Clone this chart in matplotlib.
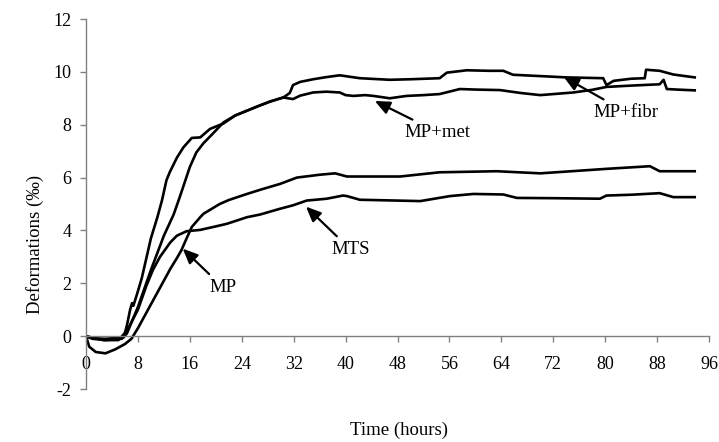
import numpy as np
import matplotlib.pyplot as plt

plt.rcParams['font.family'] = ['Liberation Serif', 'DejaVu Serif']
plt.rcParams['axes.unicode_minus'] = False

t_fibr = [0, 1, 3, 5.5, 6.3, 8, 10, 12, 13.5, 14.5, 16, 17, 18.1, 19.1, 21.2, 23, 24.8,
          26.5, 28.4, 30.4, 31.4, 31.9, 33, 35, 37, 39.1, 40.5, 42.2, 46.8, 50, 54.5,
          55.6, 58.7, 62, 64.3, 65.8, 70, 74.1, 79.7, 80.2, 81.3, 84, 86.1, 86.3, 88.4,
          90.5, 93.8]
d_fibr = [0, -0.1, -0.15, -0.1, 0.1, 1.1, 2.5, 3.8, 4.6, 5.3, 6.4, 6.95, 7.3, 7.55, 8.09,
          8.35, 8.53, 8.7, 8.88, 9.03, 9.2, 9.5, 9.62, 9.72, 9.8, 9.87, 9.82, 9.76, 9.7,
          9.72, 9.76, 9.97, 10.06, 10.04, 10.04, 9.89, 9.84, 9.79, 9.76, 9.5, 9.66, 9.74,
          9.76, 10.08, 10.04, 9.9, 9.79]

t_met = [0, 1, 3, 5.8, 6.3, 6.8, 7.1, 7.3, 8, 8.6, 10, 11, 11.7, 12.4, 12.9, 14, 15, 16.3,
         17.6, 19.1, 21.2, 23, 24.8, 26.5, 28.4, 30.4, 31.9, 33, 35, 37, 39.1, 40, 41.2,
         43, 44.3, 46.8, 49.4, 52, 54.5, 57.6, 60, 63.8, 67, 70, 75.1, 78, 80.2, 84, 88.4,
         89, 89.5, 91, 93.8]
d_met = [0, -0.08, -0.1, -0.05, 0.4, 1.0, 1.25, 1.15, 1.7, 2.2, 3.7, 4.5, 5.13, 5.9, 6.2,
         6.75, 7.14, 7.5, 7.52, 7.84, 8.05, 8.35, 8.53, 8.7, 8.88, 9.03, 8.97, 9.1, 9.22,
         9.25, 9.22, 9.12, 9.09, 9.12, 9.09, 9.0, 9.09, 9.12, 9.16, 9.35, 9.33, 9.31, 9.2,
         9.12, 9.22, 9.32, 9.43, 9.48, 9.53, 9.7, 9.35, 9.33, 9.3]

t_mp = [0, 0.5, 1.5, 3, 4.5, 6, 7, 8, 9, 10, 11, 12, 13, 14, 14.7, 15.5, 16.3, 17.6, 18.1,
        20.6, 22, 24.8, 27, 29.9, 32.5, 36.1, 38.4, 40.2, 42.2, 44.3, 48.4, 54.5, 63.3,
        70, 80.2, 86.9, 88.4, 93.8]
d_mp = [0, -0.4, -0.6, -0.65, -0.5, -0.3, -0.1, 0.3, 0.75, 1.2, 1.65, 2.1, 2.55, 2.95,
        3.25, 3.7, 4.13, 4.5, 4.63, 5.0, 5.15, 5.38, 5.55, 5.76, 6.0, 6.11, 6.16, 6.04,
        6.04, 6.04, 6.04, 6.2, 6.24, 6.16, 6.33, 6.43, 6.24, 6.24]

t_mts = [0, 2.7, 5, 6.3, 8, 9.3, 10.3, 11.4, 13, 14, 15.5, 17.6, 19.6, 21.7, 24.8, 26.8,
         29.9, 31.9, 34, 37.1, 39.6, 40.2, 42.2, 46, 51.5, 56.1, 59.7, 64.3, 66.4, 72,
         79.2, 80.2, 84, 88.4, 90.5, 93.8]
d_mts = [0, -0.15, -0.15, 0.2, 1.0, 1.9, 2.5, 3.0, 3.55, 3.8, 3.97, 4.02, 4.13, 4.25,
         4.5, 4.6, 4.82, 4.95, 5.13, 5.2, 5.32, 5.3, 5.16, 5.14, 5.11, 5.3, 5.38, 5.36,
         5.23, 5.22, 5.2, 5.32, 5.35, 5.41, 5.26, 5.26]

x_ticks = np.arange(0, 97, 8)
y_ticks = np.arange(-2, 13, 2)

fig = plt.figure(figsize=(7.19, 4.42), dpi=100)
ax = fig.add_axes([86/719, 1 - 389/442, 623/719, 370/442])

for t, d in [(t_fibr, d_fibr), (t_met, d_met), (t_mp, d_mp), (t_mts, d_mts)]:
    ax.plot(t, d, color='black', lw=1.9)

ax.set_xlim(0, 96)
ax.set_ylim(-2, 12)
ax.set_xticks(x_ticks)
ax.set_yticks(y_ticks)

ax.spines['top'].set_visible(False)
ax.spines['right'].set_visible(False)
ax.spines['bottom'].set_position(('data', 0))
for s in ['left', 'bottom']:
    ax.spines[s].set_color('#808080')
    ax.spines[s].set_linewidth(1.0)
ax.tick_params(axis='both', direction='out', length=4.5, width=1.0, color='#808080',
               labelsize=13)
ax.tick_params(axis='x', pad=10)
ax.tick_params(axis='y', pad=6)

arrow = dict(arrowstyle='-|>,head_length=0.5,head_width=0.22', color='black', lw=1.6,
             mutation_scale=18, shrinkA=2, shrinkB=0)
ax.annotate('MP+fibr', xy=(73.6, 9.81), xytext=(78.2, 8.48), fontsize=13.5,
            ha='left', va='center', arrowprops=arrow)
ax.annotate('MP+met', xy=(44.5, 8.9), xytext=(49.1, 7.72), fontsize=13.5,
            ha='left', va='center', arrowprops=arrow)
ax.annotate('MTS', xy=(33.9, 4.9), xytext=(37.8, 3.28), fontsize=13.5,
            ha='left', va='center', arrowprops=arrow)
ax.annotate('MP', xy=(14.9, 3.31), xytext=(19.0, 1.85), fontsize=13.5,
            ha='left', va='center', arrowprops=arrow)

fig.text(35/719, 1 - 244/442, 'Deformations (‰)', rotation=90, ha='center', va='center',
         fontsize=13.5)
fig.text(399/719, 1 - 430/442, 'Time (hours)', ha='center', va='center', fontsize=13.5)

fig.savefig('out.png', dpi=100)
